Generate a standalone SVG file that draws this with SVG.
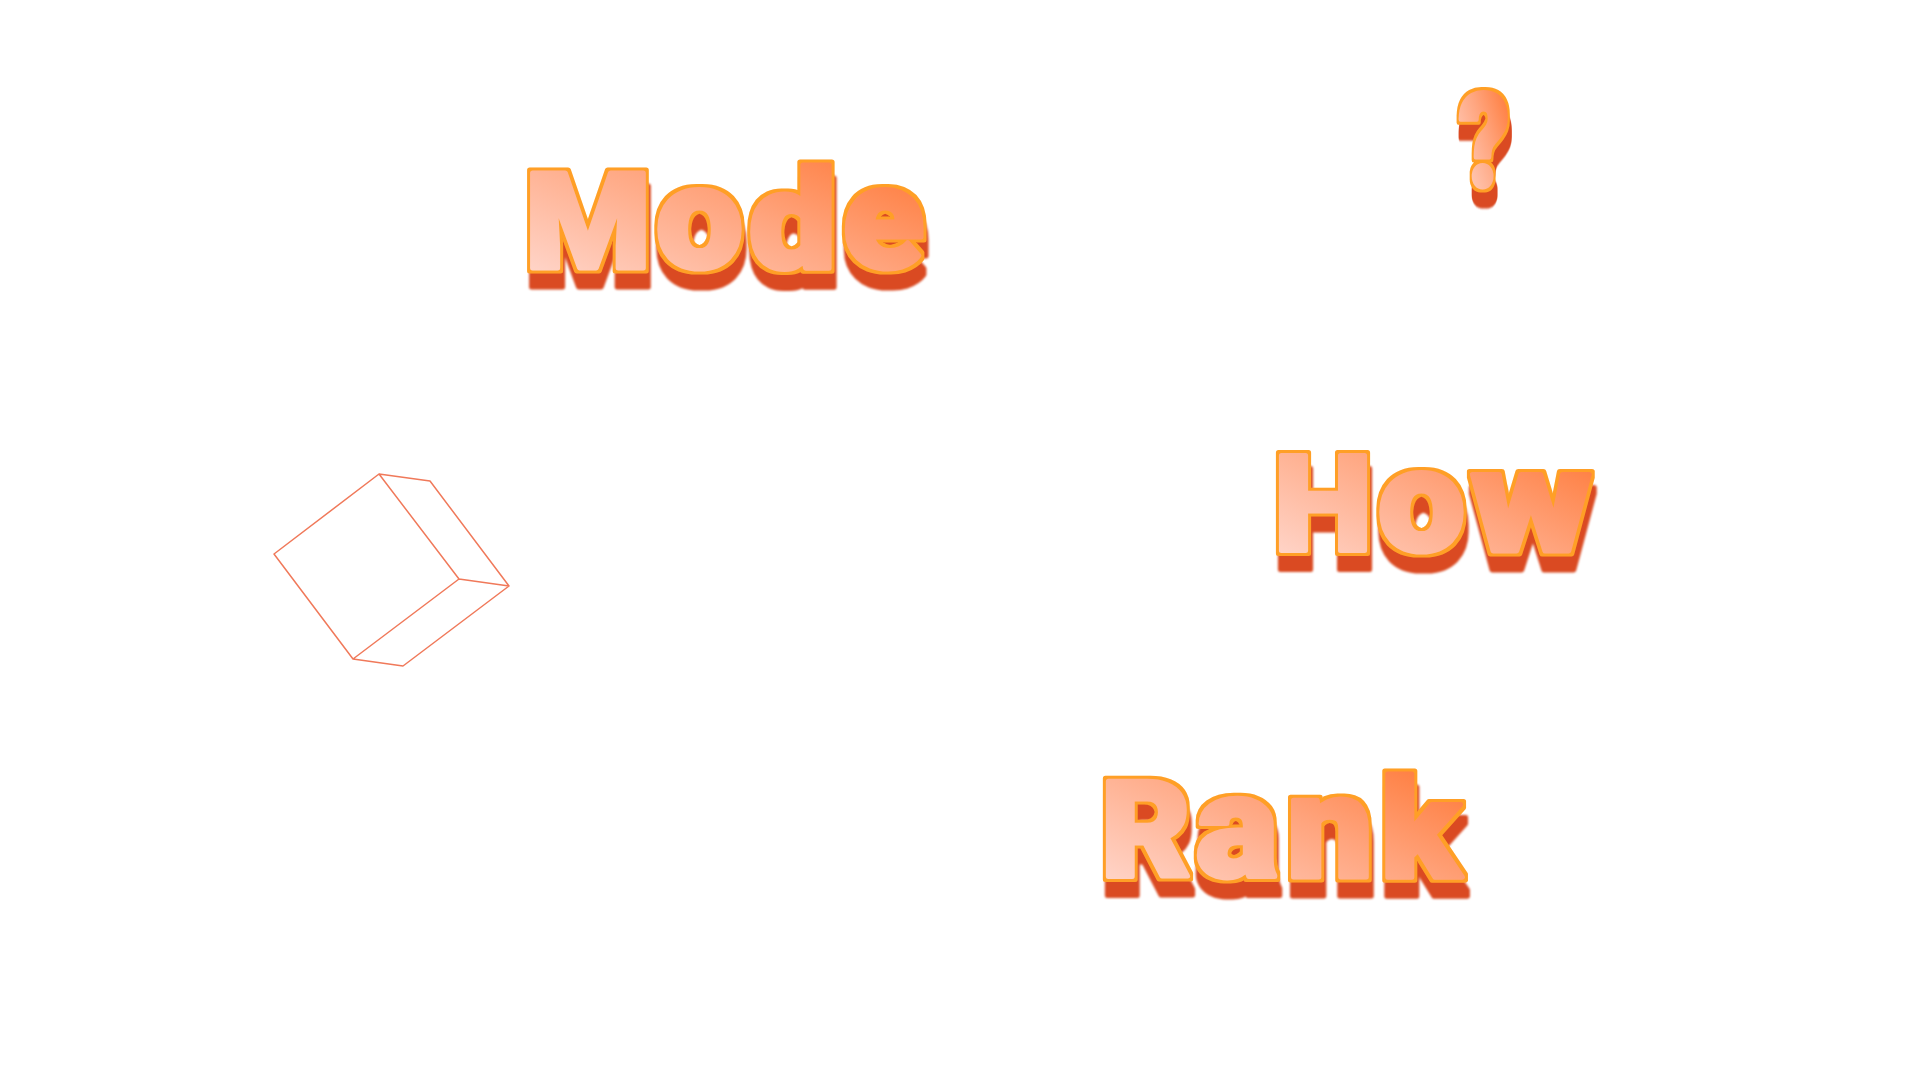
<svg xmlns="http://www.w3.org/2000/svg" width="1920" height="1080" viewBox="0 0 1920 1080">
<defs>
<linearGradient id="g" x1="0" y1="1" x2="1" y2="0"><stop offset=".08" stop-color="#ffd6cb"/><stop offset=".55" stop-color="#ffa47d"/><stop offset="1" stop-color="#ff6f28"/></linearGradient>
<filter id="t" x="-10%" y="-20%" width="120%" height="150%" color-interpolation-filters="sRGB">
<feMorphology in="SourceAlpha" operator="dilate" radius="3" result="d"/>
<feFlood flood-color="#ff9f26"/><feComposite in2="d" operator="in" result="line"/>
<feOffset in="d" dx="2" dy="16"/><feGaussianBlur stdDeviation="1" result="o"/>
<feFlood flood-color="#da4a22"/><feComposite in2="o" operator="in" result="drop"/>
<feMerge><feMergeNode in="drop"/><feMergeNode in="line"/><feMergeNode in="SourceGraphic"/></feMerge>
</filter>
<style>
text{font-family:"Roboto","Liberation Sans",sans-serif;font-weight:900;font-size:130px;stroke-linejoin:round;fill:url(#g);stroke:url(#g);stroke-width:5px;filter:url(#t)}
tspan{font-size:144px}
tspan.u{font-size:133px}
tspan.a{font-size:138px}
.c{fill:none;stroke:#f0795a;stroke-width:1.5;stroke-linejoin:round}
</style>
</defs>
<rect width="1920" height="1080" fill="#fff"/>
<g id="cube"><path class="c" d="M379 474L274 554L353 659L459 579ZM379 474L430 481L509 586L459 579M509 586L403 666L353 659"/></g>
<g id="mode">
<text y="268"><tspan class="u" x="525" textLength="126" lengthAdjust="spacingAndGlyphs">M</tspan><tspan x="656" textLength="87" lengthAdjust="spacingAndGlyphs">o</tspan><tspan class="a" x="749" textLength="87" lengthAdjust="spacingAndGlyphs">d</tspan><tspan x="843" textLength="81" lengthAdjust="spacingAndGlyphs">e</tspan></text>
</g>
<g id="question" transform="translate(1459 186) scale(.76 1)">
<text x="0" y="0">?</text>
</g>
<g id="how">
<text y="551"><tspan class="u" x="1274" textLength="98" lengthAdjust="spacingAndGlyphs">H</tspan><tspan x="1378" textLength="87" lengthAdjust="spacingAndGlyphs">o</tspan><tspan x="1471" textLength="120" lengthAdjust="spacingAndGlyphs">w</tspan></text>
</g>
<g id="rank">
<text y="877"><tspan class="u" x="1101" textLength="90" lengthAdjust="spacingAndGlyphs">R</tspan><tspan x="1196" textLength="82" lengthAdjust="spacingAndGlyphs">a</tspan><tspan x="1287" textLength="86" lengthAdjust="spacingAndGlyphs">n</tspan><tspan class="a" x="1381" textLength="79" lengthAdjust="spacingAndGlyphs">k</tspan></text>
</g>
</svg>
